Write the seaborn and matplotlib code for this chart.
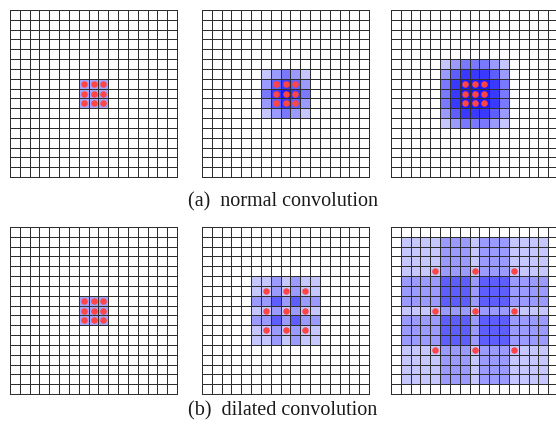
import numpy as np
import matplotlib
matplotlib.use("Agg")
import matplotlib.pyplot as plt
from matplotlib.colors import ListedColormap
import seaborn as sns

sns.set_style("white")
plt.rcParams['font.family'] = ['Liberation Serif', 'DejaVu Serif']

# ---- data ----
grid_size = 17
# dot (unit) positions per panel, row a (normal) then row b (dilated)
normal_dots = [[7, 8, 9], [7, 8, 9], [7, 8, 9]]
dilated_dots = [[7, 8, 9], [6, 8, 10], [4, 8, 12]]
# receptive field (square side, in cells) drawn around every dot
normal_fields = [1, 3, 5]
dilated_fields = [1, 3, 7]
# per-square opacity
normal_alpha = [0.35, 0.22, 0.22]
dilated_alpha = [0.35, 0.22, 0.22]
captions = ["(a)  normal convolution", "(b)  dilated convolution"]

fig = plt.figure(figsize=(5.56, 4.29), dpi=100)
W, H = 556, 429
lefts = [10, 202, 391]
tops = [10, 227]
size = 167


def coverage(dots, field):
    cnt = np.zeros((grid_size, grid_size))
    h = field // 2
    for r in dots:
        for c in dots:
            cnt[r - h:r + h + 1, c - h:c + h + 1] += 1
    return cnt


def make_cmap(alpha, nmax=10):
    cols = []
    for n in range(nmax + 1):
        a = 1 - (1 - alpha) ** n
        cols.append((1 - a, 1 - a, 1.0))
    return ListedColormap(cols)


rows = [(normal_dots, normal_fields, normal_alpha),
        (dilated_dots, dilated_fields, dilated_alpha)]
for ri, (dots_l, fields_l, alpha_l) in enumerate(rows):
    for ci in range(3):
        ax = fig.add_axes([lefts[ci] / W, 1 - (tops[ri] + size) / H,
                           size / W, size / H])
        cnt = coverage(dots_l[ci], fields_l[ci])
        sns.heatmap(cnt, ax=ax, cmap=make_cmap(alpha_l[ci]), vmin=-0.5,
                    vmax=10.5, cbar=False, linewidths=0.6,
                    linecolor='#2e2e2e', xticklabels=False,
                    yticklabels=False)
        for coll in ax.collections:
            coll.set_clip_on(False)
        xs, ys = np.meshgrid(dots_l[ci], dots_l[ci])
        sns.scatterplot(x=xs.ravel() + 0.5, y=ys.ravel() + 0.5, ax=ax,
                        color='#ff4545', s=22, linewidth=0, zorder=5,
                        legend=False)
        ax.set_xlim(0, grid_size)
        ax.set_ylim(grid_size, 0)
        ax.axis('off')

fig.text(283 / W, 1 - 202 / H, captions[0], ha='center', va='center',
         fontsize=14.5, color='#1a1a1a')
fig.text(283 / W, 1 - 411 / H, captions[1], ha='center', va='center',
         fontsize=14.5, color='#1a1a1a')

fig.savefig("out.png", dpi=100)
